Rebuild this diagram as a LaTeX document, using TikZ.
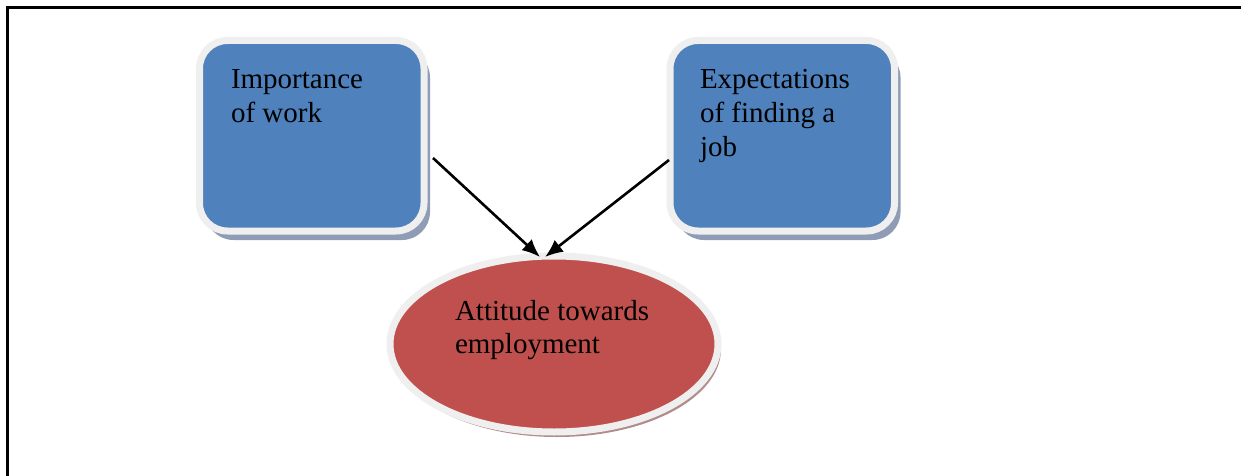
\documentclass[tikz,border=0pt]{standalone}
\usepackage{fontspec}
\setmainfont{Liberation Serif}
\usetikzlibrary{shapes.geometric,shadows,arrows.meta}
\definecolor{boxblue}{HTML}{4F81BD}
\definecolor{ellred}{HTML}{C0504D}
\definecolor{ringgray}{HTML}{EFEFEF}
\definecolor{shadowblue}{HTML}{8E9DB5}
\definecolor{shadowred}{HTML}{B08C8B}
\tikzset{
  bluebox/.style={rectangle, rounded corners=28pt, minimum width=224.5pt, minimum height=190.5pt,
    inner sep=0pt, outer sep=0pt, line width=7pt, draw=ringgray, fill=boxblue,
    drop shadow={shadow xshift=6pt, shadow yshift=-9pt, fill=shadowblue, opacity=1}},
  redell/.style={ellipse, minimum width=328pt, minimum height=176pt, inner sep=0pt, outer sep=0pt,
    line width=7pt, draw=ringgray, fill=ellred,
    drop shadow={shadow xshift=3pt, shadow yshift=-5pt, fill=shadowred, opacity=1}},
  txt/.style={anchor=base west, align=left, inner sep=0pt, outer sep=0pt,
    font=\fontsize{29}{33.5}\selectfont, text=black},
  arr/.style={line width=2.6pt, -{Latex[length=18pt,width=15pt]}},
  frame/.style={line width=2.8pt}
}
\begin{document}
\begin{tikzpicture}[x=1pt,y=-1pt]
\useasboundingbox (0,0) rectangle (1241,476);
\draw[frame] (7.5,476) -- (7.5,7.5) -- (1241,7.5);
\node[bluebox] (b1) at (311.75,135.75) {};
\node[bluebox] (b2) at (782.25,135.75) {};
\node[redell] (ell) at (554,344) {};
% base anchor of a multi-line node is the baseline of its last line
\node[txt] (t1) at (231,122.5) {Importance\\of work};
\node[txt] (t2) at (700,156) {Expectations\\of finding a\\job};
\node[txt] (t3) at (455,353.5) {Attitude towards\\employment};
\coordinate (s1) at (433,158);
\coordinate (s2) at (669,160);
\draw[arr] (s1) -- ([xshift=-14pt,yshift=-1pt]ell.north);
\draw[arr] (s2) -- ([xshift=-9pt,yshift=-1pt]ell.north);
\end{tikzpicture}
\end{document}
